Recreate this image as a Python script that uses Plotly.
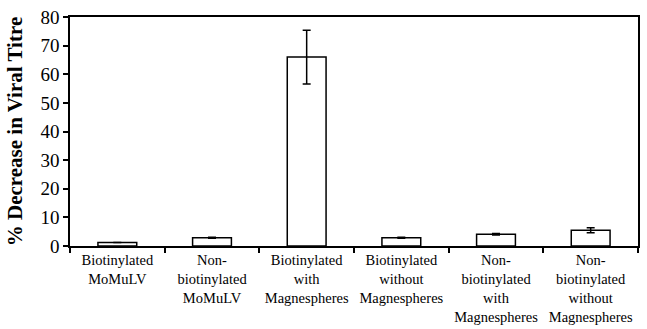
import plotly.graph_objects as go

categories = [
    "Biotinylated<br>MoMuLV",
    "Non-<br>biotinylated<br>MoMuLV",
    "Biotinylated<br>with<br>Magnespheres",
    "Biotinylated<br>without<br>Magnespheres",
    "Non-<br>biotinylated<br>with<br>Magnespheres",
    "Non-<br>biotinylated<br>without<br>Magnespheres",
]
values = [1.2, 2.9, 66.0, 2.9, 4.1, 5.5]
errors = [0.0, 0.2, 9.4, 0.15, 0.3, 0.85]
y_ticks = [0, 10, 20, 30, 40, 50, 60, 70, 80]

fig = go.Figure()
fig.add_trace(go.Bar(
    x=categories,
    y=values,
    width=0.41,
    marker=dict(color="white", line=dict(color="black", width=1.5)),
    error_y=dict(type="data", array=errors, visible=True, color="black",
                 thickness=1.5, width=4),
))

serif = "'Liberation Serif', 'Times New Roman', serif"
fig.update_layout(
    width=647, height=329,
    margin=dict(l=70, r=9, t=17, b=83, autoexpand=False),
    paper_bgcolor="white", plot_bgcolor="white",
    showlegend=False,
    font=dict(family=serif, color="black"),
)
fig.update_xaxes(
    showline=True, linecolor="black", linewidth=1.5, mirror=True,
    ticks="outside", tickson="boundaries", ticklen=5, tickcolor="black", tickwidth=1.5,
    tickfont=dict(family=serif, size=14.5, color="black"), tickangle=0, automargin=False,
    showgrid=False,
)
fig.update_yaxes(
    range=[0, 80], tickvals=y_ticks,
    showline=True, linecolor="black", linewidth=1.5, mirror=True,
    ticks="outside", ticklen=5, tickcolor="black", tickwidth=1.5,
    tickfont=dict(family=serif, size=19, color="black"), automargin=False,
    showgrid=False, zeroline=False,
    title=dict(text="<b>% Decrease in Viral Titre</b>",
               font=dict(family=serif, size=21, color="black"), standoff=12),
)
fig.write_html("out.html")
